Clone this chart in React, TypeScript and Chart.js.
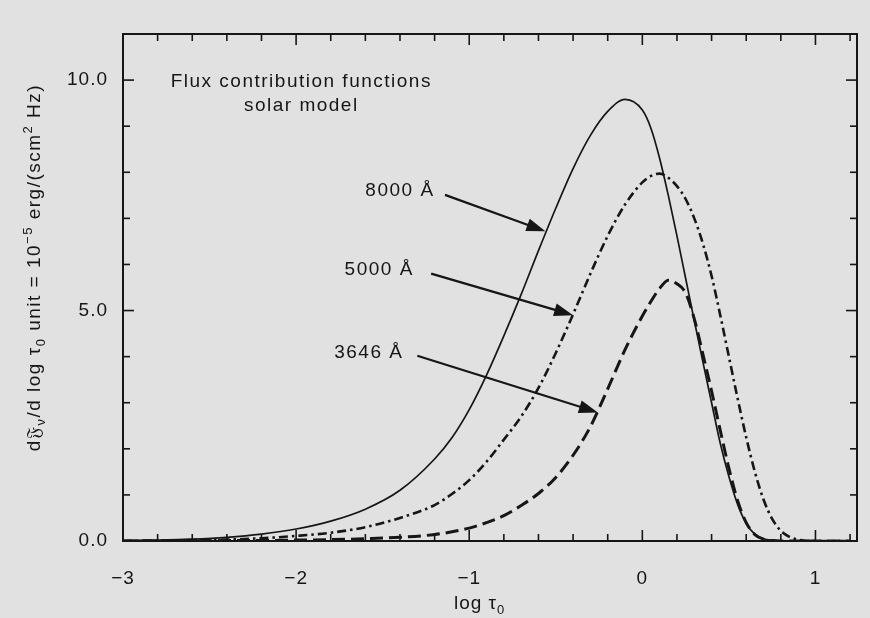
import React, { useEffect, useRef } from "react";
import { Chart, registerables } from "chart.js";

Chart.register(...registerables);

const FONT = "'Liberation Sans', 'DejaVu Sans', Arial, sans-serif";
const INK = "#161616";
const PAPER = "#e1e1e1";

// log tau_0 sample positions
const logTau = [
  -3.0, -2.8, -2.6, -2.4, -2.2, -2.0, -1.8, -1.6, -1.4, -1.2,
  -1.1, -1.0, -0.9, -0.8, -0.7, -0.6, -0.5, -0.4, -0.3, -0.2,
  -0.1, 0.0, 0.05, 0.1, 0.15, 0.2, 0.25, 0.3, 0.35, 0.4,
  0.45, 0.5, 0.55, 0.6, 0.65, 0.7, 0.75, 0.8, 0.85, 0.9,
  1.0, 1.1, 1.2,
];

// 8000 Å (solid)
const flux8000 = [
  0.01, 0.02, 0.04, 0.08, 0.15, 0.26, 0.43, 0.69, 1.1, 1.78,
  2.24, 2.85, 3.6, 4.45, 5.35, 6.3, 7.22, 8.08, 8.8, 9.32,
  9.58, 9.35, 8.95, 8.3, 7.5, 6.62, 5.7, 4.78, 3.88, 3.0,
  2.12, 1.4, 0.8, 0.38, 0.15, 0.05, 0.015, 0.0, 0.0, 0.0,
  0.0, 0.0, 0.0,
];

// 5000 Å (dash-dot)
const flux5000 = [
  0.0, 0.01, 0.02, 0.03, 0.06, 0.11, 0.18, 0.3, 0.5, 0.78,
  1.02, 1.32, 1.72, 2.2, 2.7, 3.32, 4.08, 4.92, 5.8, 6.62,
  7.3, 7.78, 7.92, 7.97, 7.88, 7.7, 7.42, 7.0, 6.45, 5.75,
  4.9, 4.0, 3.1, 2.25, 1.5, 0.9, 0.48, 0.22, 0.09, 0.03,
  0.0, 0.0, 0.0,
];

// 3646 Å (dashed)
const flux3646 = [
  0.0, 0.0, 0.0, 0.01, 0.01, 0.02, 0.03, 0.05, 0.08, 0.14,
  0.2, 0.28, 0.4, 0.55, 0.77, 1.03, 1.38, 1.86, 2.48, 3.3,
  4.15, 4.88, 5.2, 5.48, 5.66, 5.58, 5.38, 4.82, 4.05, 3.25,
  2.4, 1.58, 0.88, 0.4, 0.14, 0.04, 0.01, 0.0, 0.0, 0.0,
  0.0, 0.0, 0.0,
];

const xMin = -3;
const xMax = 1.24;
const yMin = 0;
const yMax = 11;
const xMinorStep = 0.2;
const yMinorStep = 1;
const yMajorEvery = 5;

const titleLines = ["Flux contribution functions", "solar model"];
const titleX = -1.97;
const titleY = [9.97, 9.45];

const curveLabels = ["8000 Å", "5000 Å", "3646 Å"];
const labelX = [-1.4, -1.52, -1.58];
const labelY = [7.6, 5.89, 4.09];
const arrowFromX = [-1.14, -1.22, -1.3];
const arrowFromY = [7.51, 5.8, 4.02];
const arrowToX = [-0.56, -0.4, -0.257];
const arrowToY = [6.72, 4.9, 2.79];

const xTitleX = -0.94;

type Seg = { t: string; mode?: "sub" | "sup" };

const yTitleSegs: Seg[] = [
  { t: "d𝔉" },
  { t: "ν", mode: "sub" },
  { t: "/d log τ" },
  { t: "0", mode: "sub" },
  { t: " unit = 10" },
  { t: "−5", mode: "sup" },
  { t: " erg/(scm" },
  { t: "2", mode: "sup" },
  { t: " Hz)" },
];

const xTitleSegs: Seg[] = [{ t: "log τ" }, { t: "0", mode: "sub" }];

function setSpacing(ctx: CanvasRenderingContext2D, px: number) {
  (ctx as any).letterSpacing = `${px}px`;
}

function drawRich(
  ctx: CanvasRenderingContext2D,
  segs: Seg[],
  cx: number,
  baseline: number,
  size: number,
  spacing: number
) {
  const fontFor = (m?: string) =>
    `${m ? Math.round(size * 0.68) : size}px ${FONT}`;
  setSpacing(ctx, spacing);
  ctx.textAlign = "left";
  ctx.textBaseline = "alphabetic";
  const widths = segs.map((s) => {
    ctx.font = fontFor(s.mode);
    return ctx.measureText(s.t).width;
  });
  const total = widths.reduce((a, b) => a + b, 0);
  let x = cx - total / 2;
  segs.forEach((s, i) => {
    ctx.font = fontFor(s.mode);
    const dy =
      s.mode === "sub" ? size * 0.28 : s.mode === "sup" ? -size * 0.4 : 0;
    ctx.fillText(s.t, x, baseline + dy);
    x += widths[i];
  });
}

function drawArrow(
  ctx: CanvasRenderingContext2D,
  x1: number,
  y1: number,
  x2: number,
  y2: number
) {
  const ang = Math.atan2(y2 - y1, x2 - x1);
  const L = 19;
  const W = 6.5;
  const bx = x2 - L * Math.cos(ang);
  const by = y2 - L * Math.sin(ang);
  ctx.lineWidth = 2.2;
  ctx.beginPath();
  ctx.moveTo(x1, y1);
  ctx.lineTo(bx + 2 * Math.cos(ang), by + 2 * Math.sin(ang));
  ctx.stroke();
  ctx.beginPath();
  ctx.moveTo(x2, y2);
  ctx.lineTo(bx - W * Math.sin(ang), by + W * Math.cos(ang));
  ctx.lineTo(bx + W * Math.sin(ang), by - W * Math.cos(ang));
  ctx.closePath();
  ctx.fill();
}

const decorations = {
  id: "decorations",
  beforeDraw(chart: any) {
    const { ctx, width, height } = chart;
    ctx.save();
    ctx.fillStyle = PAPER;
    ctx.fillRect(0, 0, width, height);
    ctx.restore();
    setSpacing(ctx, 1);
  },
  afterDraw(chart: any) {
    const { ctx, chartArea: a, scales } = chart;
    const xs = scales.x;
    const ys = scales.y;
    ctx.save();
    ctx.strokeStyle = INK;
    ctx.fillStyle = INK;

    // frame
    ctx.lineWidth = 2;
    ctx.strokeRect(a.left, a.top, a.right - a.left, a.bottom - a.top);

    // inward ticks
    ctx.lineWidth = 1.6;
    const seg = (x1: number, y1: number, x2: number, y2: number) => {
      ctx.beginPath();
      ctx.moveTo(x1, y1);
      ctx.lineTo(x2, y2);
      ctx.stroke();
    };
    const iStart = Math.ceil(xMin / xMinorStep - 1e-9);
    const iEnd = Math.floor(xMax / xMinorStep + 1e-9);
    for (let i = iStart; i <= iEnd; i++) {
      const v = i * xMinorStep;
      const px = xs.getPixelForValue(v);
      if (px <= a.left + 1 || px >= a.right - 1) continue;
      const major = Math.abs(v - Math.round(v)) < 1e-6;
      const len = major ? 11 : 7;
      seg(px, a.bottom, px, a.bottom - len);
      seg(px, a.top, px, a.top + len);
    }
    for (let v = yMin + yMinorStep; v < yMax; v += yMinorStep) {
      const py = ys.getPixelForValue(v);
      const major = v % yMajorEvery === 0;
      const len = major ? 11 : 7;
      seg(a.left, py, a.left + len, py);
      seg(a.right, py, a.right - len, py);
    }

    // title block
    setSpacing(ctx, 1.5);
    ctx.font = `19px ${FONT}`;
    ctx.textAlign = "center";
    ctx.textBaseline = "middle";
    titleLines.forEach((t, i) => {
      ctx.fillText(t, xs.getPixelForValue(titleX), ys.getPixelForValue(titleY[i]));
    });

    // curve labels and arrows
    curveLabels.forEach((t, i) => {
      ctx.font = `19px ${FONT}`;
      ctx.textAlign = "center";
      ctx.textBaseline = "middle";
      setSpacing(ctx, 1.5);
      ctx.fillText(t, xs.getPixelForValue(labelX[i]), ys.getPixelForValue(labelY[i]));
      drawArrow(
        ctx,
        xs.getPixelForValue(arrowFromX[i]),
        ys.getPixelForValue(arrowFromY[i]),
        xs.getPixelForValue(arrowToX[i]),
        ys.getPixelForValue(arrowToY[i])
      );
    });

    // x axis title
    drawRich(ctx, xTitleSegs, xs.getPixelForValue(xTitleX), 609, 19, 1);

    // y axis title (rotated)
    ctx.save();
    ctx.translate(40, (a.top + a.bottom) / 2 - 20);
    ctx.rotate(-Math.PI / 2);
    drawRich(ctx, yTitleSegs, 0, 0, 19, 1.5);
    ctx.restore();

    ctx.restore();
  },
};

const fmtX = (v: number) => (v < 0 ? "−" + Math.abs(v) : String(v));

export default function App() {
  const ref = useRef<HTMLCanvasElement | null>(null);

  useEffect(() => {
    if (!ref.current) return;
    const mk = (arr: number[]) => logTau.map((x, i) => ({ x, y: arr[i] }));
    const chart = new Chart(ref.current, {
      type: "line",
      data: {
        datasets: [
          {
            label: curveLabels[0],
            data: mk(flux8000),
            borderColor: INK,
            borderWidth: 1.7,
            pointRadius: 0,
            cubicInterpolationMode: "monotone",
          },
          {
            label: curveLabels[1],
            data: mk(flux5000),
            borderColor: INK,
            borderWidth: 2.6,
            borderDash: [9, 4, 2.5, 4],
            pointRadius: 0,
            cubicInterpolationMode: "monotone",
          },
          {
            label: curveLabels[2],
            data: mk(flux3646),
            borderColor: INK,
            borderWidth: 3,
            borderDash: [13, 6],
            pointRadius: 0,
            cubicInterpolationMode: "monotone",
          },
        ],
      },
      options: {
        responsive: false,
        animation: false,
        devicePixelRatio: 1,
        layout: { padding: { top: 34, right: 13, left: 0, bottom: 0 } },
        plugins: {
          legend: { display: false },
          tooltip: { enabled: false },
        },
        scales: {
          x: {
            type: "linear",
            min: xMin,
            max: xMax,
            grid: { display: false, drawTicks: false },
            border: { display: false },
            afterFit: (s: any) => {
              s.height = 77;
            },
            ticks: {
              stepSize: 1,
              includeBounds: false,
              autoSkip: false,
              maxRotation: 0,
              padding: 26,
              color: INK,
              font: { family: FONT, size: 19 },
              callback: (v: any) => fmtX(Number(v)),
            },
          },
          y: {
            type: "linear",
            min: yMin,
            max: yMax,
            grid: { display: false, drawTicks: false },
            border: { display: false },
            afterFit: (s: any) => {
              s.width = 123;
            },
            ticks: {
              stepSize: 5,
              includeBounds: false,
              padding: 15,
              color: INK,
              font: { family: FONT, size: 19 },
              callback: (v: any) => Number(v).toFixed(1),
            },
          },
        },
      },
      plugins: [decorations as any],
    });
    return () => chart.destroy();
  }, []);

  return (
    <div
      style={{
        position: "fixed",
        left: 0,
        top: 0,
        width: 870,
        height: 618,
        background: PAPER,
      }}
    >
      <canvas ref={ref} width={870} height={618} style={{ display: "block" }} />
    </div>
  );
}
